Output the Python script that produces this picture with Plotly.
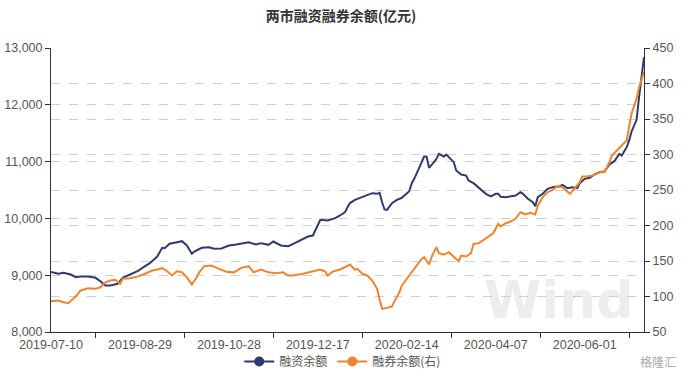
import plotly.graph_objects as go

# Trading-day index (0 = 2019-07-10) -> 融资余额 (亿元, left axis)
fin_idx = [0, 3, 5, 8, 10, 12, 15, 18, 20, 22, 24, 27, 29, 32, 35, 37, 40, 43, 45, 46, 48, 51, 53, 55, 57, 58, 60,
           61, 64, 66, 69, 72, 75, 77, 80, 83, 85, 88, 90, 93, 96, 98, 101, 104, 106, 108, 109, 112, 115, 117, 119, 120,
           121, 123, 125, 127, 130, 132, 133, 134, 135, 136, 138, 140, 142, 143, 145, 146, 147, 149, 151, 152, 153, 155,
           156, 157, 159, 160, 161, 163, 164, 166, 168, 169, 171, 173, 175, 176, 178, 180, 181, 182,
           184, 186, 188, 190, 191, 193, 195, 196, 197, 199, 201, 203, 206, 207, 209, 211, 213, 214, 216, 218, 220, 222,
           224, 226, 228, 230, 231, 233, 234, 235, 237, 238, 239, 240]
fin_val = [9056, 9025, 9042, 9012, 8965, 8977, 8977, 8954, 8894, 8818, 8818, 8848, 8954, 9012, 9070, 9130, 9211, 9329,
           9482, 9475, 9553, 9581, 9599, 9523, 9377, 9417, 9452,
           9482, 9493, 9465, 9470, 9523, 9540, 9553, 9581, 9540, 9564, 9535, 9593, 9523, 9511, 9553, 9623, 9681, 9699,
           9875, 9975, 9963, 10004, 10051, 10110, 10197,
           10270, 10327, 10363, 10403, 10444, 10433, 10450, 10285, 10157, 10150, 10268, 10327, 10363, 10403, 10479, 10620,
           10697, 10891, 11090, 11090, 10891, 10990, 11049, 11137, 11090, 11125, 11077, 10990, 10843, 10773, 10755, 10667,
           10620, 10550, 10479, 10433, 10386, 10433, 10433, 10380,
           10373, 10386, 10403, 10461, 10433, 10345, 10285, 10215, 10373, 10433, 10521, 10550, 10567, 10591, 10532, 10550,
           10532, 10620, 10697, 10715, 10773, 10814, 10826, 10949, 11007, 11137, 11107, 11254, 11372, 11535, 11736, 12134,
           12546, 12838]

# Trading-day index -> 融券余额 (亿元, right axis)
sec_idx = [0, 3, 5, 7, 10, 12, 15, 18, 20, 22, 24, 26, 28, 29, 32, 35, 38, 41, 43, 45, 47, 49, 51, 53, 55, 57, 59, 60,
           62, 65, 68, 71, 74, 77, 80, 82, 85, 88, 91, 94, 96, 98, 102, 105, 109, 111, 112, 114, 117, 119, 121,
           123, 124, 126, 128, 130, 132, 133, 134, 136, 138, 139, 141, 142, 144, 146, 148, 150, 151, 153, 154, 156, 157,
           159, 161, 163, 165, 166, 168, 170, 171, 173, 175, 177, 179, 181, 182,
           184, 186, 188, 190, 192, 194, 196, 197, 199, 201, 203, 205, 207, 210, 212, 214, 215, 217, 219, 221, 223, 224,
           226, 227, 229, 231, 233, 234, 235, 237, 238, 240]
sec_val = [93.4, 94.4, 92, 90.6, 100, 108.5, 111.7, 110.8, 113, 120, 122.5, 123.5, 118, 125, 125.8, 128, 132, 136.6,
           138, 139.9, 135.6, 129.6, 135.6, 134.2, 127, 117, 127, 134,
           142.7, 143.7, 139, 135, 134, 140.4, 142.7, 134, 138, 134, 132.8, 134, 129.6, 129.6, 132, 135, 138, 135, 129.6,
           135, 138, 141.3, 145,
           137.6, 139, 132, 129.6, 122.5, 110.8, 95.3, 82.7, 84, 86, 93.4, 106, 115.5, 125, 133.4, 143.7, 153, 155.4, 145,
           155.4, 169.4, 161, 159, 162.4, 156.3, 149.7, 157.7, 156.3, 161, 174.2, 175, 180, 184.5, 189, 202.4, 198.6,
           203.2, 205.6, 209.4, 218.7, 215.5, 217.9, 215.5, 228, 239.9, 246.9, 250.3, 255.4, 254, 244.6, 252.5, 261, 269,
           269, 270.4, 273.7, 276, 275, 289, 298.6, 305.6, 311.3, 319.7, 339.4, 358.2, 378.5, 394.8, 416]

tick_idx = [0, 36, 72, 108, 144, 180, 216]
tick_txt = ["2019-07-10", "2019-08-29", "2019-10-28", "2019-12-17", "2020-02-14", "2020-04-07", "2020-06-01"]

NAVY = "#2F3B6C"
ORANGE = "#EE8431"
FONT = "Noto Sans CJK SC"

fig = go.Figure()
fig.add_trace(go.Scatter(x=fin_idx, y=fin_val, mode="lines", line=dict(color=NAVY, width=2),
                         showlegend=False, yaxis="y"))
fig.add_trace(go.Scatter(x=sec_idx, y=sec_val, mode="lines", line=dict(color=ORANGE, width=2),
                         showlegend=False, yaxis="y2"))
# legend entries (line + circle symbol)
fig.add_trace(go.Scatter(x=[None], y=[None], mode="lines+markers", name="融资余额",
                         line=dict(color=NAVY, width=2), marker=dict(size=10, color=NAVY)))
fig.add_trace(go.Scatter(x=[None], y=[None], mode="lines+markers", name="融券余额(右)",
                         line=dict(color=ORANGE, width=2), marker=dict(size=10, color=ORANGE), yaxis="y2"))

axis_font = dict(family="Liberation Sans", size=12.5, color="#555555")
fig.update_layout(
    width=682, height=372,
    margin=dict(l=51, r=38, t=48, b=40, autoexpand=False),
    paper_bgcolor="white", plot_bgcolor="white",
    font=dict(family=FONT, size=12, color="#555555"),
    title=dict(text="<b>两市融资融券余额(亿元)</b>", x=0.5, xanchor="center", y=0.957, yanchor="middle",
               font=dict(family=FONT, size=14, color="#333333")),
    xaxis=dict(range=[0, 240], tickmode="array", tickvals=tick_idx, ticktext=tick_txt, ticks="",
               showgrid=False, zeroline=False, showline=True, linecolor="#333333", linewidth=1,
               tickfont=axis_font, automargin=False, ticklabelstandoff=1,
               minor=dict(tick0=18, dtick=36, ticks="outside", ticklen=5, tickcolor="#333333", showgrid=False)),
    yaxis=dict(range=[8000, 13000], dtick=1000, tickformat=",", ticks="outside", ticklen=5, tickcolor="#333333",
               showline=True, linecolor="#333333", linewidth=1, zeroline=False, automargin=False,
               showgrid=True, gridcolor="#cfcfcf", griddash="dash", gridwidth=1, tickfont=axis_font),
    yaxis2=dict(range=[50, 450], dtick=50, overlaying="y", side="right", ticks="outside", ticklen=5,
                tickcolor="#333333", showline=True, linecolor="#333333", linewidth=1, zeroline=False,
                automargin=False,
                showgrid=True, gridcolor="#cfcfcf", griddash="dash", gridwidth=1, tickfont=axis_font),
    legend=dict(orientation="h", x=0.492, xanchor="center", yref="container", y=0.028, yanchor="middle",
                font=dict(family=FONT, size=12, color="#555555"), itemwidth=30, bgcolor="rgba(0,0,0,0)"),
)

# watermarks (kept inside the plot area so they do not cover the axis labels)
fig.add_annotation(text="<b>Wind</b>", xref="paper", yref="paper", x=0.985, y=0.0, xanchor="right",
                   yanchor="bottom", showarrow=False,
                   font=dict(family="DejaVu Sans", size=52, color="rgba(190,190,190,0.28)"))
fig.add_annotation(text="格隆汇", xref="paper", yref="paper", x=1.058, y=-0.105, xanchor="right", yanchor="middle",
                   showarrow=False, font=dict(family=FONT, size=12, color="rgba(150,150,150,0.85)"))

fig.write_html("out.html", config={"displayModeBar": False},
               post_script="document.body.style.margin='0';document.body.style.overflow='hidden';")
